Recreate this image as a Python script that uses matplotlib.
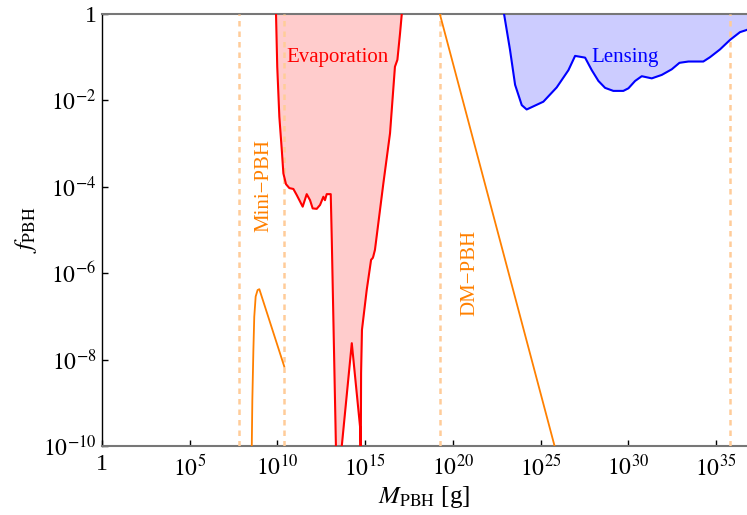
import numpy as np
import matplotlib
matplotlib.use("Agg")
import matplotlib.pyplot as plt
from matplotlib.ticker import FixedLocator, FixedFormatter, NullLocator

plt.rcParams['font.family'] = 'serif'
plt.rcParams['font.serif'] = ['Liberation Serif', 'DejaVu Serif']
plt.rcParams['mathtext.fontset'] = 'stix'

# all values as log10 exponents (mass in g, f_PBH)
evap_logM = [9.92, 9.99, 10.11, 10.25, 10.34, 10.49, 10.68, 10.91, 11.10, 11.29,
             11.44, 11.67, 11.86, 12.01, 12.24, 12.43, 12.62, 12.71, 12.81, 13.04,
             13.10, 13.36, 13.55, 14.24, 14.71, 14.75, 14.77, 14.82, 15.09, 15.34,
             15.43, 15.46, 15.56, 16.04, 16.42, 16.70, 16.84, 16.99, 17.09]
evap_logf = [0.0, -1.22, -2.38, -3.15, -3.69, -3.94, -4.03, -4.05, -4.19, -4.34,
             -4.46, -4.17, -4.31, -4.50, -4.51, -4.42, -4.23, -4.31, -4.17, -4.17,
             -5.23, -10.5, -10.5, -7.62, -9.55, -10.5, -8.31, -7.31, -6.39, -5.69,
             -5.65, -5.62, -5.46, -3.92, -2.76, -1.22, -1.06, -0.45, 0.0]

lens_logM = [22.92, 23.26, 23.55, 23.93, 24.21, 25.16, 25.92, 26.59, 26.97, 27.54,
             27.92, 28.30, 28.68, 29.15, 29.72, 30.01, 30.39, 30.77, 31.34, 31.91,
             32.48, 32.92, 33.43, 34.28, 34.66, 35.23, 35.80, 36.37, 36.75, 36.95]
lens_logf = [0.0, -0.83, -1.64, -2.11, -2.21, -2.03, -1.70, -1.30, -0.97, -1.01,
             -1.30, -1.55, -1.71, -1.78, -1.78, -1.72, -1.55, -1.44, -1.49, -1.41,
             -1.28, -1.13, -1.10, -1.10, -1.00, -0.82, -0.60, -0.42, -0.37, -0.33]

mini_logM = [8.53, 8.57, 8.63, 8.68, 8.76, 8.87, 8.97, 10.39]
mini_logf = [-10.3, -8.94, -7.78, -7.01, -6.54, -6.39, -6.37, -8.16]

dm_logM = [19.26, 25.80]
dm_logf = [0.0, -10.0]

bound_logM = [7.79, 10.39, 19.26, 35.80]

xtick_exp = [0, 5, 10, 15, 20, 25, 30, 35]
ytick_exp = [0, -2, -4, -6, -8, -10]

red, pink = '#ff0000', '#ffcccc'
blue, lilac = '#0000ff', '#ccccff'
orange, light_orange = '#ff8000', '#ffcc99'

fig = plt.figure(figsize=(7.47, 5.15), dpi=100)
ax = fig.add_axes([102 / 747, 1 - 446 / 515, 1 - 102 / 747, (446 - 14) / 515])

p = lambda a: 10.0 ** np.asarray(a)

ax.fill_between(p(evap_logM), p(evap_logf), 1, color=pink, lw=0, zorder=1)
ax.plot(p(evap_logM), p(evap_logf), color=red, lw=1.5, zorder=4)
ax.fill_between(p(lens_logM), p(lens_logf), 1, color=lilac, lw=0, zorder=1)
ax.plot(p(lens_logM), p(lens_logf), color=blue, lw=1.5, zorder=4)
ax.plot(p(mini_logM), p(mini_logf), color=orange, lw=1.3, zorder=4)
ax.plot(p(dm_logM), p(dm_logf), color=orange, lw=1.3, zorder=4)
for b in p(bound_logM):
    ax.axvline(b, color=light_orange, lw=1.8, ls=(0, (2.2, 2.0)), zorder=3)

ax.set_xscale('log')
ax.set_yscale('log')
ax.set_xlim(1, 10 ** 36.77)
ax.set_ylim(1e-10, 1)

def lab(e):
    return '1' if e == 0 else r'$10^{%d}$' % e

ax.xaxis.set_major_locator(FixedLocator(p(xtick_exp)))
ax.xaxis.set_major_formatter(FixedFormatter([lab(e) for e in xtick_exp]))
ax.yaxis.set_major_locator(FixedLocator(p(ytick_exp)))
ax.yaxis.set_major_formatter(FixedFormatter([lab(e) for e in ytick_exp]))
ax.xaxis.set_minor_locator(NullLocator())
ax.yaxis.set_minor_locator(NullLocator())
ax.tick_params(direction='in', length=4, width=1, labelsize=17, color='black')
ax.tick_params(axis='x', pad=6)
ax.tick_params(axis='y', pad=4)

ax.spines['right'].set_visible(False)
ax.spines['left'].set_color('black')
ax.spines['left'].set_linewidth(1.0)
for s in ('top', 'bottom'):
    ax.spines[s].set_color('#777777')
    ax.spines[s].set_linewidth(1.5)

ax.set_xlabel(r'$M_{\rm PBH}$ [g]', fontsize=18, labelpad=3)
ax.set_ylabel(r'$f_{\rm PBH}$', fontsize=18, labelpad=3)

ax.text(10 ** 13.45, 10 ** -1.0, 'Evaporation', color=red, fontsize=15,
        ha='center', va='center', zorder=5)
ax.text(10 ** 29.8, 10 ** -1.0, 'Lensing', color=blue, fontsize=15,
        ha='center', va='center', zorder=5)
ax.text(10 ** 9.2, 10 ** -3.98, 'Mini\u2212PBH', color=orange, fontsize=15,
        rotation=90, ha='center', va='center', zorder=5)
ax.text(10 ** 20.95, 10 ** -5.99, 'DM\u2212PBH', color=orange, fontsize=15,
        rotation=90, ha='center', va='center', zorder=5)

fig.savefig('out.png', dpi=100)
